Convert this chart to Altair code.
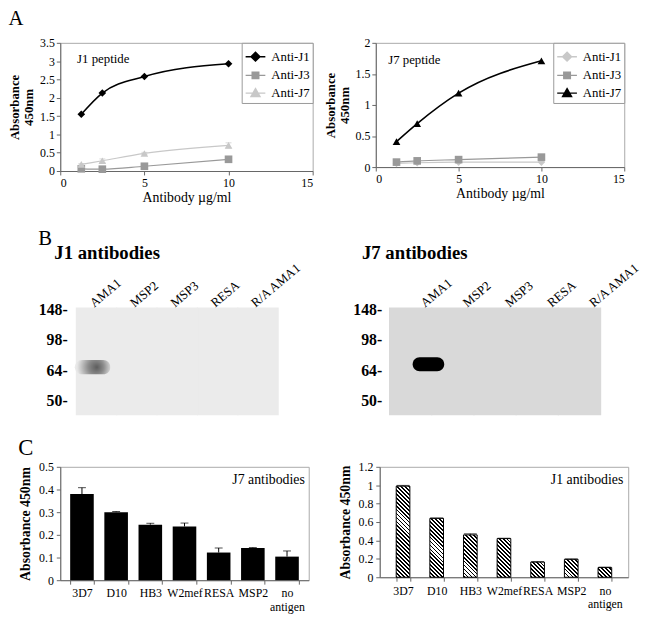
import altair as alt
import pandas as pd

FONT = "Liberation Serif"

# ---------------- data ----------------
conc = [1.25, 2.5, 5, 10]
series = ["Anti-J1", "Anti-J3", "Anti-J7"]

# J1 peptide ELISA
j1pep_anti_j1 = [1.55, 2.13, 2.58, 2.93]
j1pep_anti_j3 = [0.06, 0.05, 0.13, 0.32]
j1pep_anti_j7 = [0.18, 0.28, 0.48, 0.70]
j1pep_anti_j7_err = [0.02, 0.05, 0.03, 0.07]

# J7 peptide ELISA
j7pep_anti_j1 = [0.06, 0.07, 0.08, 0.08]
j7pep_anti_j3 = [0.08, 0.10, 0.12, 0.16]
j7pep_anti_j7 = [0.41, 0.70, 1.19, 1.71]

# Western blots
lanes = ["AMA1", "MSP2", "MSP3", "RESA", "R/A AMA1"]
markers = ["148", "98", "64", "50"]
band_lane = ["AMA1"]
band_kda = ["64"]

# Bar charts
strains = ["3D7", "D10", "HB3", "W2mef", "RESA", "MSP2", "no antigen"]
j7ab_vals = [0.38, 0.30, 0.245, 0.237, 0.122, 0.142, 0.104]
j7ab_err = [0.028, 0.003, 0.006, 0.015, 0.02, 0.002, 0.025]
j1ab_vals = [0.99, 0.64, 0.46, 0.42, 0.165, 0.195, 0.105]
j1ab_err = [0.008, 0.004, 0.012, 0.004, 0.004, 0.004, 0.005]

shapes = ["diamond", "square", "triangle-up"]
legend_paths = [
    "M-1,0L1,0M0,-0.45L0.45,0L0,0.45L-0.45,0Z",
    "M-1,0L1,0M-0.33,-0.33L0.33,-0.33L0.33,0.33L-0.33,0.33Z",
    "M-1,0L1,0M0,-0.45L0.45,0.35L-0.45,0.35Z",
]


def elisa(values, colors, note, note_x, note_y, ymax, ystep, w, h, err=None):
    rows = []
    for s, vals in zip(series, values):
        for c, v in zip(conc, vals):
            rows.append({"series": s, "conc": c, "abs": v})
    df = pd.DataFrame(rows)
    n = int(round(ymax / ystep))
    yt = [round(i * ystep, 3) for i in range(n + 1)]
    xscale = alt.Scale(domain=[0, 15], nice=False)
    xaxis = alt.Axis(values=[0, 5, 10, 15], title="Antibody µg/ml", titleFontWeight="normal",
                     titleFontSize=14, titlePadding=2, labelPadding=3)
    yscale = alt.Scale(domain=[0, ymax], nice=False)
    yaxis = alt.Axis(values=yt, format="~g", title=["Absorbance", "450nm"],
                     titleFontWeight="bold", titlePadding=4, titleLineHeight=14,
                     labelPadding=2, labelOverlap=False)
    X = alt.X("conc:Q", scale=xscale, axis=xaxis)
    Y = alt.Y("abs:Q", scale=yscale, axis=yaxis)
    layers = []
    for s, col, shp in zip(series, colors, shapes):
        sub = alt.Chart(df).transform_filter(alt.datum.series == s)
        sw = 1.6 if col == "black" else 1.2
        layers.append(sub.mark_line(color=col, strokeWidth=sw, interpolate="monotone").encode(X, Y))
        layers.append(sub.mark_point(filled=True, color=col, opacity=1, shape=shp, size=60).encode(X, Y))
    if err is not None:
        s_idx, errs = err
        edf = pd.DataFrame({"conc": conc,
                            "lo": [v - e for v, e in zip(values[s_idx], errs)],
                            "hi": [v + e for v, e in zip(values[s_idx], errs)]})
        ecol = colors[s_idx]
        eb = alt.Chart(edf)
        Ylo = alt.Y("lo:Q", scale=yscale, axis=yaxis)
        Yhi = alt.Y("hi:Q", scale=yscale, axis=yaxis)
        layers.append(eb.mark_rule(color=ecol, strokeWidth=1).encode(X, Ylo, alt.Y2("hi:Q")))
        layers.append(eb.mark_tick(color=ecol, orient="horizontal", size=6, thickness=1).encode(X, Yhi))
        layers.append(eb.mark_tick(color=ecol, orient="horizontal", size=6, thickness=1).encode(X, Ylo))
    leg = alt.Legend(title=None, orient="top-right", offset=0, padding=3, rowPadding=0,
                     strokeColor="#999", fillColor="white", labelFont=FONT, labelFontSize=13,
                     symbolSize=400, symbolStrokeWidth=1.5, symbolOpacity=1, labelOffset=5)
    cs = alt.Scale(domain=series, range=colors)
    layers.append(
        alt.Chart(df).mark_point(filled=True, opacity=0, size=400).encode(
            X, Y,
            color=alt.Color("series:N", scale=cs, legend=leg),
            stroke=alt.Stroke("series:N", scale=cs, legend=leg),
            shape=alt.Shape("series:N", scale=alt.Scale(domain=series, range=legend_paths), legend=leg),
        )
    )
    note_df = pd.DataFrame({"conc": [note_x], "abs": [note_y], "label": [note]})
    layers.append(alt.Chart(note_df).mark_text(align="left", baseline="middle", font=FONT, fontSize=13)
                  .encode(X, Y, text="label:N"))
    return alt.layer(*layers).properties(width=w, height=h)


def blot(title, bg, band_path, band_size, band_fill, dx, dy, po, w, h, title_dx,
         label_offset, axis_offset, label_pad):
    lane_df = pd.DataFrame({"lane": lanes})
    band_df = pd.DataFrame({"lane": band_lane, "kDa": band_kda})
    X = alt.X("lane:N", sort=lanes,
              scale=alt.Scale(type="band", domain=lanes, paddingInner=0, paddingOuter=po, align=1),
              axis=alt.Axis(orient="top", labelAngle=-40, labelAlign="left", labelBaseline="middle",
                            ticks=False, domain=False, labelPadding=4, labelFontSize=13,
                            labelOffset=label_offset, title=None))
    Y = alt.Y("kDa:N", sort=markers,
              scale=alt.Scale(type="point", domain=markers, padding=0.26, align=0.1),
              axis=alt.Axis(ticks=False, domain=False, labelExpr="datum.label + '-'",
                            labelFontWeight="bold", labelFontSize=16, labelPadding=label_pad,
                            offset=axis_offset, title=None))
    gel = alt.Chart(lane_df).mark_rect(color=bg, stroke=bg, strokeWidth=1.2).encode(X)
    band = (alt.Chart(band_df)
            .mark_point(shape=band_path, size=band_size, filled=True, fill=band_fill, opacity=1,
                        strokeWidth=0, xOffset=dx, yOffset=dy)
            .encode(X, Y))
    return (alt.layer(gel, band)
            .properties(width=w, height=h,
                        title=alt.Title(title, anchor="start", frame="group", dx=title_dx, dy=3,
                                        fontSize=19, fontWeight="bold", offset=0),
                        view=alt.ViewBackground(fill="white", stroke="white", strokeWidth=0)))


def hatch_gradient(h_px, w_px, period=4.0, ink=0.45):
    h = max(h_px, 1.0)
    w = w_px
    k = (w + h) / (w * w + h * h)
    L = w + h
    n = L / period
    stops = []
    i = 0
    while i < n:
        a = i / n
        b = min((i + ink) / n, 1.0)
        c = min((i + 1) / n, 1.0)
        stops += [{"offset": a, "color": "black"}, {"offset": b, "color": "black"},
                  {"offset": b, "color": "white"}, {"offset": c, "color": "white"}]
        i += 1
    return {"gradient": "linear", "x1": 0, "y1": 1, "x2": k * w, "y2": 1 - k * h, "stops": stops}


def bars(vals, errs, ymax, ystep, note, w, h, pi, po, hatched, cap, note_dx):
    step = w / (len(strains) - pi + 2 * po)
    bw = (1 - pi) * step
    recs = []
    for s, v, e in zip(strains, vals, errs):
        r = {"strain": s, "abs": v, "hi": v + e}
        if hatched:
            r["grad"] = hatch_gradient(v / ymax * h, bw)
        recs.append(r)
    data = alt.InlineData(values=recs)
    n = int(round(ymax / ystep))
    yt = [round(i * ystep, 3) for i in range(n + 1)]
    X = alt.X("strain:N", sort=strains,
              scale=alt.Scale(domain=strains, paddingInner=pi, paddingOuter=po),
              axis=alt.Axis(labelAngle=0, tickBand="extent", title=None, labelPadding=4,
                            labelLineHeight=14,
                            labelExpr="datum.value == 'no antigen' ? ['no', 'antigen'] : datum.value"))
    yscale = alt.Scale(domain=[0, ymax], nice=False)
    yaxis = alt.Axis(values=yt, format="~g", title="Absorbance 450nm", titleFontWeight="bold",
                     titleFontSize=14, titlePadding=6, labelPadding=3, labelOverlap=False)
    Y = alt.Y("abs:Q", scale=yscale, axis=yaxis)
    Yhi = alt.Y("hi:Q", scale=yscale, axis=yaxis)
    base = alt.Chart(data)
    if hatched:
        bar = base.mark_bar(stroke="black", strokeWidth=1).encode(
            X, Y, fill=alt.Fill("grad:N", scale=None, legend=None))
    else:
        bar = base.mark_bar(color="black").encode(X, Y)
    rule = base.mark_rule(color="black", strokeWidth=1).encode(X, Y, alt.Y2("hi:Q"))
    tick = base.mark_tick(color="black", size=cap, thickness=1).encode(X, Yhi)
    return (alt.layer(rule, bar, tick)
            .properties(width=w, height=h,
                        title=alt.Title(note, anchor="end", frame="group", dx=note_dx, dy=26,
                                        fontSize=14, fontWeight="normal", offset=0)))


gray1, gray2 = "#999999", "#c8c8c8"
a_left = elisa([j1pep_anti_j1, j1pep_anti_j3, j1pep_anti_j7], ["black", gray1, gray2],
               "J1 peptide", 1.0, 3.05, 3.5, 0.5, 256, 130, err=(2, j1pep_anti_j7_err))
a_right = elisa([j7pep_anti_j1, j7pep_anti_j3, j7pep_anti_j7], [gray2, gray1, "black"],
                "J7 peptide", 0.75, 1.73, 2.0, 0.5, 252, 126)

capsule = "M-0.56,-0.44L0.56,-0.44A0.44,0.44 0 0 1 0.56,0.44L-0.56,0.44A0.44,0.44 0 0 1 -0.56,-0.44Z"
blob = "M-0.6,-0.4L0.6,-0.4A0.4,0.4 0 0 1 0.6,0.4L-0.6,0.4A0.4,0.4 0 0 1 -0.6,-0.4Z"
blob_fill = {"gradient": "radial", "x1": 0.62, "y1": 0.5, "r1": 0, "x2": 0.55, "y2": 0.5, "r2": 0.55,
             "stops": [{"offset": 0, "color": "#5c5c5c"}, {"offset": 0.4, "color": "#8c8c8c"},
                       {"offset": 0.9, "color": "#e6e6e6"}, {"offset": 1, "color": "#ebebeb"}]}
b_left = blot("J1 antibodies", "#ebebeb", blob, 1296, blob_fill, -4, -3, 0.2, 221, 108, -6,
              -5, -17, 10)
b_right = blot("J7 antibodies", "#d9d9d9", capsule, 1024, "black", 18, -6, 0, 214, 108, -28,
               12, 0, 8)

c_left = bars(j7ab_vals, j7ab_err, 0.5, 0.1, "J7 antibodies", 252, 115, 0.31, 0.29, False, 8, -4)
c_right = bars(j1ab_vals, j1ab_err, 1.2, 0.2, "J1 antibodies", 252, 112, 0.594, 0.49, True, 13, -5)

row_title = dict(anchor="start", fontWeight="normal", font=FONT)
row_a = (alt.hconcat(a_left, a_right, spacing=64, bounds="flush",
                     title=alt.Title("A", offset=8, fontSize=21, **row_title))
         .resolve_scale(color="independent", stroke="independent", shape="independent"))
row_b = alt.hconcat(b_left, b_right, spacing=113, bounds="flush",
                    title=alt.Title("B", offset=-4, fontSize=21, **row_title))
row_c = alt.hconcat(c_left, c_right, spacing=72, bounds="flush",
                    title=alt.Title("C", offset=0, fontSize=23, **row_title))

chart = (
    alt.vconcat(row_a, row_b, row_c, spacing=22)
    .properties(padding={"left": 0, "top": -5, "right": 0, "bottom": 0})
    .configure(font=FONT)
    .configure_axis(labelFont=FONT, titleFont=FONT, labelColor="black", titleColor="black",
                    domainColor="#666", tickColor="#666", tickSize=4, grid=False,
                    labelFontSize=12, titleFontSize=13)
    .configure_view(stroke="#aaaaaa")
    .configure_title(font=FONT, color="black")
)

chart.save("out.html", embed_options={"renderer": "svg", "actions": False})
